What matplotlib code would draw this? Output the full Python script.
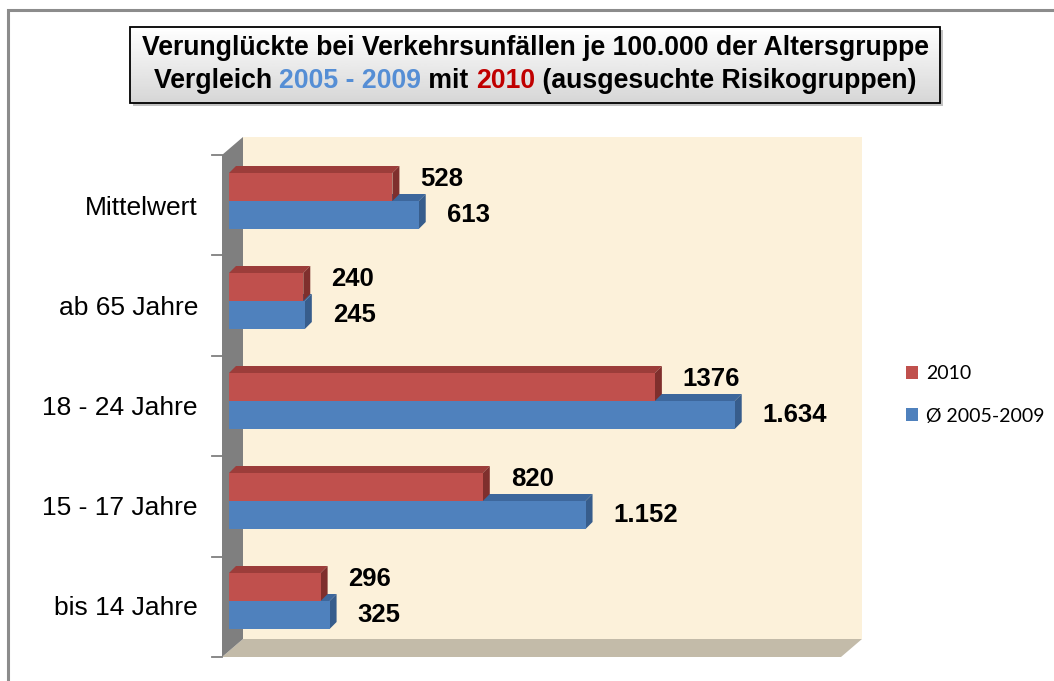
import numpy as np
import matplotlib.pyplot as plt
from matplotlib.patches import Polygon, Rectangle

W, H = 1054, 681

# data (top to bottom as in the chart)
categories = ["Mittelwert", "ab 65 Jahre", "18 - 24 Jahre", "15 - 17 Jahre", "bis 14 Jahre"]
values_2010 = [528, 240, 1376, 820, 296]
values_avg = [613, 245, 1634, 1152, 325]
series_names = ["2010", "Ø 2005-2009"]
x_max = 2000

RED, RED_TOP, RED_SIDE = "#c0504d", "#9c3d3a", "#7f2f2d"
BLUE, BLUE_TOP, BLUE_SIDE = "#4f81bd", "#3d679c", "#375d8c"

fig = plt.figure(figsize=(W / 100, H / 100), dpi=100)

# background axes in pixel units for the decoration (frame, walls, title box)
bg = fig.add_axes([0, 0, 1, 1], zorder=0)
bg.set_xlim(0, W)
bg.set_ylim(H, 0)
bg.axis("off")

# outer frame (left and top only visible)
bg.plot([8, 8, W], [H, 10, 10], color="#8c8c8c", lw=2.2, solid_joinstyle="miter")

# 3d walls
bg.add_patch(Rectangle((243, 137), 619, 502, facecolor="#fcf1da", edgecolor="none"))
bg.add_patch(Polygon([(222, 657), (243, 639), (862, 639), (841, 657)],
                     closed=True, facecolor="#c3bba9", edgecolor="none"))
bg.add_patch(Polygon([(222, 155), (243, 137), (243, 639), (222, 657)],
                     closed=True, facecolor="#7f7f7f", edgecolor="none"))
for ty in np.linspace(155, 657, len(categories) + 1):
    bg.plot([212, 222], [ty, ty], color="#7f7f7f", lw=1.3)

# title box with shadow and gradient
bg.add_patch(Rectangle((133, 30), 810, 76, facecolor="#9a9a9a", edgecolor="none", alpha=0.6))
grad = np.linspace(1.0, 0.84, 50).reshape(-1, 1)
bg.imshow(grad, extent=(130, 940, 103, 27), cmap="gray", vmin=0, vmax=1, aspect="auto", zorder=2)
bg.add_patch(Rectangle((130, 27), 810, 76, facecolor="none", edgecolor="black", lw=1.3, zorder=3))

title_font = dict(family="Liberation Sans", fontsize=19.2, fontweight="bold")
bg.text(535, 48, "Verunglückte bei Verkehrsunfällen je 100.000 der Altersgruppe",
        ha="center", va="center", zorder=4, **title_font)
pieces = [("Vergleich ", "black"), ("2005 - 2009", "#558ed5"), (" mit ", "black"),
          ("2010", "#c00000"), (" (ausgesuchte Risikogruppen)", "black")]
renderer = fig.canvas.get_renderer()
texts = []
total = 0
for s, c in pieces:
    t = bg.text(0, 81, s, color=c, ha="left", va="center", zorder=4, **title_font)
    bb = t.get_window_extent(renderer)
    texts.append((t, bb.width))
    total += bb.width
xpos = 535 - total / 2
for t, w in texts:
    t.set_x(xpos)
    xpos += w

# main axes: plane of the bar front faces
ax = fig.add_axes([229 / W, 30 / H, 619 / W, 500 / H], zorder=1)
ax.set_xlim(0, x_max)
ax.set_ylim(-0.5, len(categories) - 0.5)
ax.patch.set_alpha(0)
ax.axis("off")

px_x = x_max / 619.0
px_y = 1 / 100.0
dx, dy = 7 * px_x, 7 * px_y
bh = 0.28

cats = categories[::-1]
v_red = values_2010[::-1]
v_blue = values_avg[::-1]
pos = np.arange(len(cats))


def box_bar(y0, v, front, top, side):
    ax.add_patch(Polygon([(0, y0 + bh), (v, y0 + bh), (v + dx, y0 + bh + dy), (dx, y0 + bh + dy)],
                         closed=True, facecolor=top, edgecolor="none"))
    ax.add_patch(Polygon([(v, y0), (v, y0 + bh), (v + dx, y0 + bh + dy), (v + dx, y0 + dy)],
                         closed=True, facecolor=side, edgecolor="none"))
    ax.barh(y0, v, height=bh, align="edge", color=front, edgecolor="none")


lbl_font = dict(fontsize=18.5, family="Liberation Sans", fontweight="bold")
for i in pos:
    box_bar(i - bh, v_blue[i], BLUE, BLUE_TOP, BLUE_SIDE)
    box_bar(i, v_red[i], RED, RED_TOP, RED_SIDE)
    ax.annotate(f"{v_red[i]}", (v_red[i], i + bh / 2), xytext=(28, 8), textcoords="offset pixels",
                ha="left", va="center", annotation_clip=False, **lbl_font)
    ax.annotate(f"{v_blue[i]:,}".replace(",", "."), (v_blue[i], i - bh / 2), xytext=(28, 0),
                textcoords="offset pixels", ha="left", va="center", annotation_clip=False,
                **lbl_font)
    ax.annotate(cats[i], (0, i), xytext=(-31, -7), textcoords="offset pixels", ha="right",
                va="center", fontsize=19, family="Liberation Sans", annotation_clip=False)

handles = [Rectangle((0, 0), 1, 1, facecolor=RED), Rectangle((0, 0), 1, 1, facecolor=BLUE)]
fig.legend(handles, series_names, loc="center left", bbox_to_anchor=(888 / W, 1 - 395 / H),
           frameon=False, handlelength=0.65, handleheight=0.65, handletextpad=0.4,
           labelspacing=1.3, prop=dict(family="Lato", size=14))

fig.savefig("out.png", dpi=100)
